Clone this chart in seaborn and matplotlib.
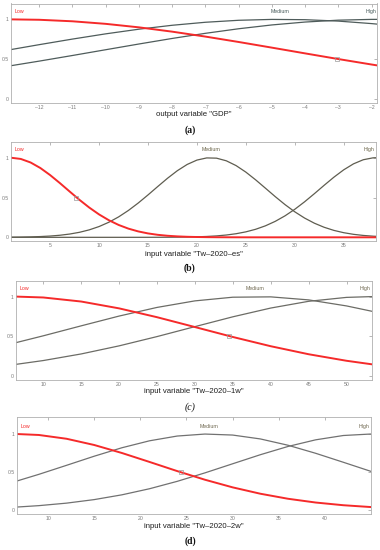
import matplotlib
matplotlib.use("Agg")
import matplotlib.pyplot as plt
import seaborn as sns

# ---------------- data (membership values) ----------------
# (a) output variable "GDP"
x_a = [-12.85, -12, -11, -10, -9, -8, -7, -6, -5, -4, -3, -2, -1.82]
low_a = [1.0, 0.9949, 0.9758, 0.9436, 0.8995, 0.8453, 0.7832, 0.7152, 0.6439, 0.5715, 0.5001, 0.4313, 0.4194]
med_a = [0.6196, 0.6814, 0.7518, 0.8176, 0.8763, 0.9256, 0.9635, 0.9885, 0.9995, 0.9960, 0.9782, 0.9468, 0.9398]
high_a = [0.4162, 0.4740, 0.5449, 0.6175, 0.6897, 0.7595, 0.8242, 0.8817, 0.9298, 0.9663, 0.9900, 0.9998, 1.0]

# (b) input variable "Tw-2020-es"
x_b = [1, 2, 3, 4, 5, 6, 7, 8, 9, 10, 11, 12, 13, 14, 15, 16, 17, 18, 19, 20,
       21, 22, 23, 24, 25, 26, 27, 28, 29, 30, 31, 32, 33, 34, 35, 36, 37, 38, 38.3]
low_b = [1.0, 0.9847, 0.9403, 0.8707, 0.7818, 0.6807, 0.5748, 0.4706, 0.3736, 0.2876,
         0.2147, 0.1554, 0.1091, 0.0743, 0.0490, 0.0314, 0.0195, 0.0117, 0.0068, 0.0039,
         0.0021, 0.0011, 0.0006, 0.0003, 0.0001, 0, 0, 0, 0, 0, 0, 0, 0, 0, 0, 0, 0, 0, 0]
med_b = [0.0017, 0.0031, 0.0055, 0.0095, 0.0160, 0.0260, 0.0412, 0.0631, 0.0939, 0.1354,
         0.1894, 0.2568, 0.3377, 0.4307, 0.5325, 0.6385, 0.7424, 0.8371, 0.9152, 0.9703,
         0.9975, 0.9945, 0.9614, 0.9012, 0.8192, 0.7221, 0.6173, 0.5116, 0.4112, 0.3205,
         0.2422, 0.1775, 0.1262, 0.0869, 0.0581, 0.0376, 0.0237, 0.0144, 0.0124]
high_b = [0, 0, 0, 0, 0, 0, 0, 0, 0, 0, 0, 0, 0, 0.0001, 0.0003, 0.0005, 0.0010, 0.0019,
          0.0035, 0.0063, 0.0107, 0.0178, 0.0288, 0.0451, 0.0686, 0.1010, 0.1444, 0.2004,
          0.2697, 0.3521, 0.4460, 0.5480, 0.6534, 0.7557, 0.8479, 0.9230, 0.9747, 0.9986, 1.0]

# (c) input variable "Tw-2020-1w"
x_c = [6.4, 10, 15, 20, 25, 30, 35, 40, 45, 50, 53.4]
low_c = [1.0, 0.9888, 0.9378, 0.8517, 0.7406, 0.6166, 0.4916, 0.3753, 0.2743, 0.1920, 0.1469]
med_c = [0.4203, 0.5063, 0.6318, 0.7548, 0.8636, 0.9460, 0.9922, 0.9965, 0.9584, 0.8825, 0.8140]
high_c = [0.1469, 0.1949, 0.2780, 0.3797, 0.4965, 0.6217, 0.7454, 0.8557, 0.9406, 0.9900, 1.0]

# (d) input variable "Tw-2020-2w"
x_d = [6.6, 9, 12, 15, 18, 21, 24, 27, 30, 33, 36, 39, 42, 45]
low_d = [1.0, 0.9873, 0.9375, 0.8555, 0.7501, 0.6321, 0.5118, 0.3982, 0.2978, 0.2140, 0.1477, 0.0980, 0.0625, 0.0383]
med_d = [0.3804, 0.4690, 0.5877, 0.7077, 0.8190, 0.9108, 0.9733, 0.9994, 0.9863, 0.9353, 0.8523, 0.7463, 0.6281, 0.5079]
high_d = [0.0383, 0.0569, 0.0899, 0.1365, 0.1993, 0.2796, 0.3770, 0.4883, 0.6079, 0.7272, 0.8359, 0.9234, 0.9803, 1.0]

mf_names = ["Low", "Medium", "High"]
centers_a = [-12.85, -4.74, -1.82]
centers_b = [1, 21.4, 38.3]
centers_c = [6.4, 38.0, 53.4]
centers_d = [6.6, 27.5, 45]
marker_pts = {"a": (-3.05, 0.5), "b": (7.66, 0.5), "c": (34.5, 0.5), "d": (24.4, 0.5)}

xlabels = ['output variable "GDP"', 'input variable "Tw\u20132020\u2013es"',
           'input variable "Tw\u20132020\u20131w"', 'input variable "Tw\u20132020\u20132w"']
panel_tags = ["(a)", "(b)", "(c)", "(d)"]
xticks_a = [-12, -11, -10, -9, -8, -7, -6, -5, -4, -3, -2]
xticks_b = [5, 10, 15, 20, 25, 30, 35]
xticks_c = [10, 15, 20, 25, 30, 35, 40, 45, 50]
xticks_d = [10, 15, 20, 25, 30, 35, 40]

# ---------------- figure ----------------
sns.set_style("white")
plt.rcParams['font.family'] = ['Liberation Sans', 'DejaVu Sans']

W, H = 380, 550
fig = plt.figure(figsize=(W / 100, H / 100), dpi=100)


def box(l, t, r, b):
    return [l / W, 1 - b / H, (r - l) / W, (b - t) / H]


panels = [
    dict(rect=box(11, 3.5, 377.5, 102.7), x=x_a, ys=(low_a, med_a, high_a), cen=centers_a,
         xlim=(-12.85, -1.82), ylim=(-0.05, 1.2), xt=xticks_a, gray="#4f5c5b", lab="#465a5a",
         key="a", xl_y=114.5, tag_y=130, tag_style="normal", tag_w="bold"),
    dict(rect=box(11, 141.8, 376, 241.3), x=x_b, ys=(low_b, med_b, high_b), cen=centers_b,
         xlim=(1, 38.3), ylim=(-0.05, 1.2), xt=xticks_b, gray="#5f5d50", lab="#6a6448",
         key="b", xl_y=254, tag_y=268, tag_style="normal", tag_w="bold"),
    dict(rect=box(16, 280.7, 372.3, 380), x=x_c, ys=(low_c, med_c, high_c), cen=centers_c,
         xlim=(6.4, 53.4), ylim=(-0.05, 1.2), xt=xticks_c, gray="#6c6c66", lab="#6f6850",
         key="c", xl_y=391.5, tag_y=407, tag_style="italic", tag_w="normal"),
    dict(rect=box(16.7, 417.3, 371, 514.3), x=x_d, ys=(low_d, med_d, high_d), cen=centers_d,
         xlim=(6.6, 45), ylim=(-0.057, 1.22), xt=xticks_d, gray="#717171", lab="#6f6850",
         key="d", xl_y=526.5, tag_y=541, tag_style="normal", tag_w="bold"),
]

red = "#f52a2a"
for i, p in enumerate(panels):
    ax = fig.add_axes(p["rect"])
    low, med, high = p["ys"]
    sns.lineplot(x=p["x"], y=med, ax=ax, color=p["gray"], linewidth=0.9, sort=False)
    sns.lineplot(x=p["x"], y=high, ax=ax, color=p["gray"], linewidth=0.9, sort=False)
    sns.lineplot(x=p["x"], y=low, ax=ax, color=red, linewidth=1.4, sort=False)
    mx, my = marker_pts[p["key"]]
    ax.plot([mx], [my], marker="s", markersize=2.2, markerfacecolor="none",
            markeredgecolor="#9a9a9a", markeredgewidth=0.5, linestyle="none", zorder=5)
    ax.set_xlim(*p["xlim"])
    ax.set_ylim(*p["ylim"])
    ax.set_xticks(p["xt"])
    ax.set_xticklabels([str(v).replace("-", "\u2013") for v in p["xt"]])
    ax.set_yticks([0, 0.5, 1])
    ax.set_yticklabels(["0", "0.5", "1"])
    ax.tick_params(direction="in", length=2.5, width=0.5, colors="#9a9a9a",
                   labelcolor="#7a7a7a", labelsize=3.7, top=True, right=True, pad=1.5)
    ax.tick_params(axis="y", pad=1.5)
    for s in ax.spines.values():
        s.set_color("#b0b0b0")
        s.set_linewidth(0.6)
    ax.set_xlabel("")
    ax.set_ylabel("")
    # MF name labels
    x0, x1 = p["xlim"]
    ax.text(x0 + (x1 - x0) * 0.01, 1.1, mf_names[0], color=red, fontsize=3.8,
            ha="left", va="center")
    ax.text(p["cen"][1], 1.1, mf_names[1], color=p["lab"], fontsize=3.8,
            ha="center", va="center")
    ax.text(x1 - (x1 - x0) * 0.004, 1.1, mf_names[2], color=p["lab"], fontsize=3.8,
            ha="right", va="center")
    cx = p["rect"][0] + p["rect"][2] / 2
    fig.text(cx, 1 - p["xl_y"] / H, xlabels[i], fontsize=5.6, color="#1e1e1e",
             ha="center", va="center")
    fig.text(0.5, 1 - p["tag_y"] / H, panel_tags[i], fontsize=7, color="#111111",
             ha="center", va="center", family=["Liberation Serif", "DejaVu Serif"],
             fontweight=p["tag_w"], fontstyle=p["tag_style"])

fig.savefig("out.png", dpi=100)
